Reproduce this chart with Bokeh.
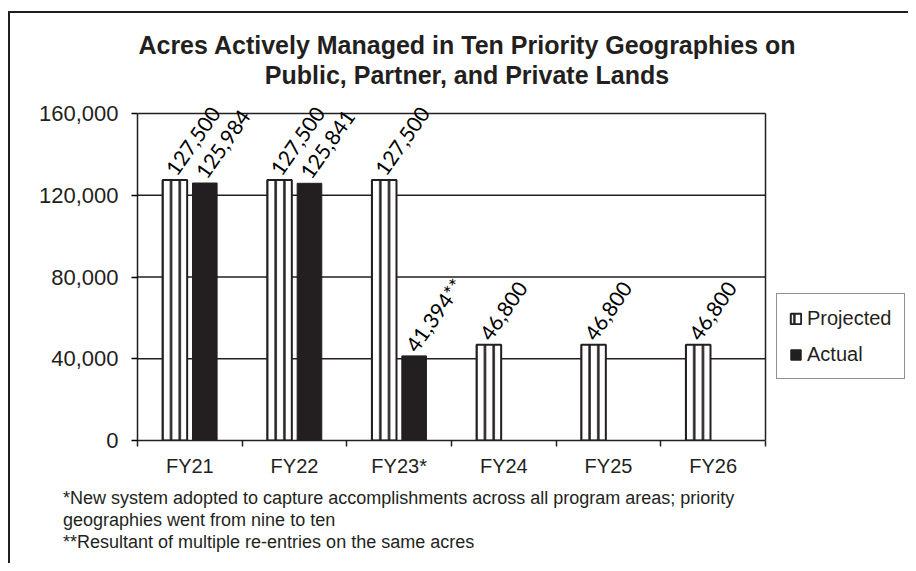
import numpy as np
from bokeh.plotting import figure
from bokeh.layouts import column
from bokeh.models import (ColumnDataSource, Range1d, FixedTicker, NumeralTickFormatter,
                          Legend, LegendItem, Div)
from bokeh.transform import dodge
from bokeh.core.properties import value
from bokeh.embed import file_html
from bokeh.resources import INLINE

# ---- data ----
categories = ["FY21", "FY22", "FY23*", "FY24", "FY25", "FY26"]
projected = [127500, 127500, 127500, 46800, 46800, 46800]
projected_labels = ["127,500", "127,500", "127,500", "46,800", "46,800", "46,800"]
actual = [125984, 125841, 41394]
actual_labels = ["125,984", "125,841", "41,394**"]
y_ticks = [0, 40000, 80000, 120000, 160000]
title_lines = ["Acres Actively Managed in Ten Priority Geographies on",
               "Public, Partner, and Private Lands"]
footnotes = ["*New system adopted to capture accomplishments across all program areas; priority",
             "geographies went from nine to ten",
             "**Resultant of multiple re-entries on the same acres"]

DARK = "#231f20"
FONT = "Liberation Sans"

# ---- layout sizes (px) ----
W_TOTAL = 908
TITLE_H = 90
FIG_H = 395
FOOT_H = 563 - TITLE_H - FIG_H
PLOT_W = 628          # width of the plotted category area
FRAME_W = W_TOTAL - 137
PLOT_H = 327
HEAD = 22             # px of room above the top gridline (for rotated labels)
TOP = 1

centers = list(np.arange(len(categories)) + 0.5)
src_p = ColumnDataSource(dict(x=centers, y=projected, lab=projected_labels))
src_a = ColumnDataSource(dict(x=centers[:len(actual)], y=actual, lab=actual_labels))
src_g = ColumnDataSource(dict(y=y_ticks[1:]))

n = len(categories)
y_top = y_ticks[-1] + HEAD * (y_ticks[-1] - y_ticks[0]) / PLOT_H
p = figure(width=W_TOTAL, height=FIG_H, x_range=Range1d(0, n * FRAME_W / PLOT_W),
           y_range=Range1d(y_ticks[0], y_top),
           output_backend="svg", toolbar_location=None, title=None,
           min_border_left=137, min_border_right=0, min_border_top=TOP,
           min_border_bottom=FIG_H - TOP - (PLOT_H + HEAD))
p.background_fill_color = None
p.border_fill_color = None
p.outline_line_color = None

# gridlines and right edge of the plot area
p.segment(x0=0, x1=n, y0="y", y1="y", source=src_g, line_color=DARK, line_width=1.3)
p.segment(x0=n, x1=n, y0=y_ticks[0], y1=y_ticks[-1], line_color=DARK, line_width=1.5)

OFF = 0.143
W = 0.235
rp = p.vbar(x=dodge("x", -OFF), top="y", width=W, source=src_p, fill_color="white",
            line_color=DARK, line_width=2, hatch_pattern="|", hatch_color=DARK,
            hatch_weight=2.5, hatch_scale=8.72)
ra = p.vbar(x=dodge("x", OFF), top="y", width=W, source=src_a, fill_color=DARK,
            line_color=DARK, line_width=1)

ang = np.deg2rad(55)
for src, off in ((src_p, -OFF), (src_a, OFF)):
    p.text(x=dodge("x", off), y="y", text="lab", source=src, angle=ang,
           text_font=value("Lato"), text_font_size="21px", text_color="black",
           text_align="left", text_baseline="alphabetic", x_offset=-4, y_offset=-7)

# axes
p.yaxis.ticker = FixedTicker(ticks=y_ticks)
p.yaxis.formatter = NumeralTickFormatter(format="0,0")
p.yaxis.bounds = (y_ticks[0], y_ticks[-1])
p.yaxis.major_tick_in = 0
p.yaxis.major_tick_out = 6
p.yaxis.minor_tick_line_color = None
p.yaxis.major_label_standoff = 13
p.yaxis.major_label_text_font_size = "22px"

p.xaxis.ticker = FixedTicker(ticks=centers, minor_ticks=list(range(n + 1)))
p.xaxis.major_label_overrides = {c: cat for c, cat in zip(centers, categories)}
p.xaxis.bounds = (0, n)
p.xaxis.major_tick_line_color = None
p.xaxis.major_tick_out = 0
p.xaxis.major_tick_in = 0
p.xaxis.minor_tick_in = 0
p.xaxis.minor_tick_out = 6
p.xaxis.minor_tick_line_color = DARK
p.xaxis.minor_tick_line_width = 1.5
p.xaxis.major_label_standoff = 8
p.xaxis.major_label_text_font_size = "20px"

for ax in (p.xaxis, p.yaxis):
    ax.axis_line_color = DARK
    ax.axis_line_width = 1.5
    ax.major_tick_line_width = 1.5
    ax.major_label_text_font = FONT
    ax.major_label_text_color = DARK

p.xgrid.grid_line_color = None
p.ygrid.grid_line_color = None

legend = Legend(items=[LegendItem(label="Projected", renderers=[rp]),
                       LegendItem(label="Actual", renderers=[ra])],
                location=(639, 61), orientation="vertical")
legend.label_text_font = FONT
legend.label_text_font_size = "20px"
legend.label_text_color = DARK
legend.glyph_width = 13
legend.glyph_height = 13
legend.label_height = 24
legend.label_standoff = 5
legend.padding = 12
legend.spacing = 12
legend.margin = 0
legend.border_line_color = DARK
legend.border_line_width = 1
legend.background_fill_color = "white"
legend.background_fill_alpha = 1
p.add_layout(legend, "center")

title_html = ("<div style=\"font-family:'Liberation Sans';font-weight:bold;font-size:25px;"
              "color:%s;text-align:center;line-height:30px;padding-top:30px;margin-left:26px;"
              "width:882px;white-space:nowrap;\">%s</div>" % (DARK, "<br>".join(title_lines)))
title_div = Div(text=title_html, width=W_TOTAL, height=TITLE_H, margin=0)

foot_html = ("<div style=\"font-family:'Liberation Sans';font-size:18px;color:%s;"
             "line-height:22px;padding-top:2px;padding-left:63px;white-space:nowrap;\">%s</div>"
             % (DARK, "<br>".join(footnotes)))
foot_div = Div(text=foot_html, width=W_TOTAL, height=FOOT_H, margin=0)

layout = column(title_div, p, foot_div, spacing=0)
layout.styles = {
    "background": ("linear-gradient(#231f20,#231f20) 8px 11px / 2px calc(100% - 11px) no-repeat, "
                   "linear-gradient(#231f20,#231f20) 8px 11px / calc(100% - 8px) 2px no-repeat, white"),
}

open("out.html", "w").write(file_html(layout, INLINE))
